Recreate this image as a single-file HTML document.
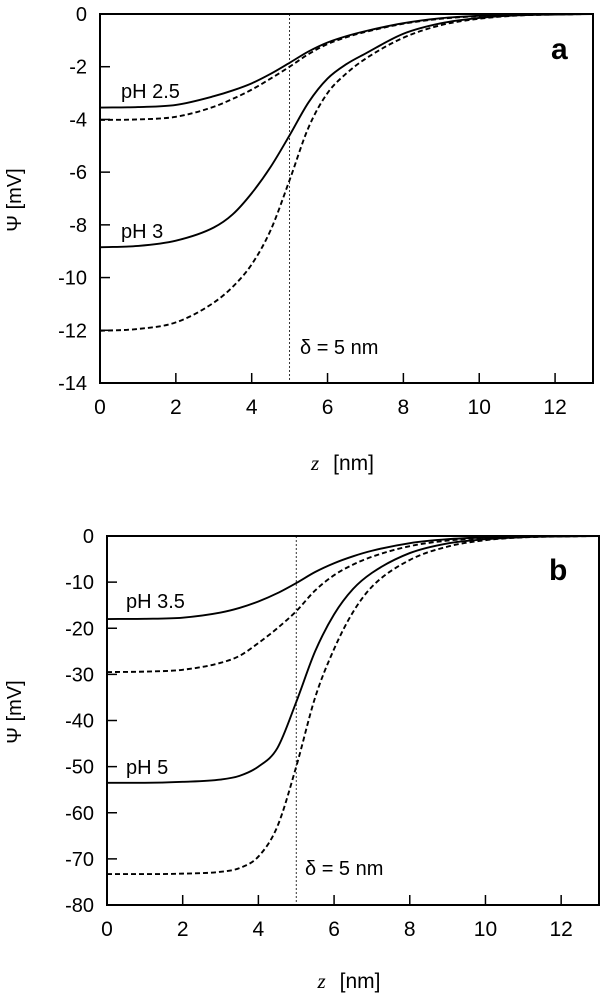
<!DOCTYPE html>
<html><head><meta charset="utf-8"><style>
html,body{margin:0;padding:0;background:#fff;}
svg{display:block;font-family:"Liberation Sans",sans-serif;}
</style></head><body>
<svg id="chart" width="600" height="999" viewBox="0 0 600 999"></svg>
<script>
const zPts = [0,1,2,3,3.5,4,4.5,5,5.5,6,6.5,7,8,9,10,11,12,13];
const aXTicks = [0,2,4,6,8,10,12];
const aYTicks = [0,-2,-4,-6,-8,-10,-12,-14];
const bXTicks = [0,2,4,6,8,10,12];
const bYTicks = [0,-10,-20,-30,-40,-50,-60,-70,-80];
const aPh25Solid = [-3.55,-3.53,-3.45,-3.12,-2.9,-2.63,-2.27,-1.85,-1.42,-1.08,-0.84,-0.65,-0.35,-0.16,-0.07,-0.03,-0.01,0];
const aPh25Dashed = [-4.02,-4.0,-3.9,-3.52,-3.22,-2.87,-2.45,-2.0,-1.52,-1.14,-0.88,-0.68,-0.37,-0.18,-0.08,-0.03,-0.01,0];
const aPh3Solid = [-8.85,-8.8,-8.6,-8.1,-7.6,-6.8,-5.8,-4.6,-3.35,-2.45,-1.9,-1.5,-0.75,-0.35,-0.15,-0.05,-0.02,0];
const aPh3Dashed = [-12.02,-11.95,-11.7,-10.95,-10.35,-9.5,-8.2,-6.3,-4.3,-3.0,-2.25,-1.7,-0.9,-0.42,-0.18,-0.06,-0.02,0];
const bPh35Solid = [-18,-17.95,-17.7,-16.6,-15.6,-14.2,-12.4,-10.2,-7.8,-5.9,-4.4,-3.2,-1.55,-0.7,-0.3,-0.1,-0.03,0];
const bPh35Dashed = [-29.5,-29.4,-29,-27.5,-26,-23.2,-20,-16.3,-11.8,-8.5,-6.2,-4.5,-2.2,-1.0,-0.4,-0.15,-0.05,0];
const bPh5Solid = [-53.5,-53.5,-53.3,-52.8,-52,-50,-46,-36,-25,-17,-11.5,-8,-3.7,-1.6,-0.7,-0.25,-0.08,0];
const bPh5Dashed = [-73.3,-73.3,-73.2,-72.8,-72,-69.5,-63,-50,-35,-24.5,-16.5,-11,-5.2,-2.3,-0.9,-0.3,-0.1,0];

const NS="http://www.w3.org/2000/svg";
const svg=document.getElementById('chart');
function mk(tag,attrs,parent){const e=document.createElementNS(NS,tag);for(const k in attrs)e.setAttribute(k,attrs[k]);(parent||svg).appendChild(e);return e;}

function monotonePath(xs,ys){
  const n=xs.length,d=[],m=[];
  for(let i=0;i<n-1;i++)d.push((ys[i+1]-ys[i])/(xs[i+1]-xs[i]));
  m[0]=d[0];m[n-1]=d[n-2];
  for(let i=1;i<n-1;i++){m[i]=(d[i-1]*d[i]<=0)?0:(d[i-1]+d[i])/2;}
  for(let i=0;i<n-1;i++){if(d[i]===0){m[i]=0;m[i+1]=0;continue;}const a=m[i]/d[i],b=m[i+1]/d[i],s=a*a+b*b;if(s>9){const t=3/Math.sqrt(s);m[i]=t*a*d[i];m[i+1]=t*b*d[i];}}
  let p='M'+xs[0].toFixed(2)+','+ys[0].toFixed(2);
  for(let i=0;i<n-1;i++){const h=(xs[i+1]-xs[i])/3;
    p+=' C'+(xs[i]+h).toFixed(2)+','+(ys[i]+m[i]*h).toFixed(2)+' '+(xs[i+1]-h).toFixed(2)+','+(ys[i+1]-m[i+1]*h).toFixed(2)+' '+xs[i+1].toFixed(2)+','+ys[i+1].toFixed(2);}
  return p;
}

function panel(cfg){
  const g=mk('g',{});
  
  
  const X=v=>cfg.x0+(v-cfg.xmin)/(cfg.xmax-cfg.xmin)*(cfg.x1-cfg.x0);
  const Y=v=>cfg.y0+(cfg.ymax-v)/(cfg.ymax-cfg.ymin)*(cfg.y1-cfg.y0);
  const dl=mk('line',{x1:X(5),x2:X(5),y1:cfg.y0,y2:cfg.y1,stroke:'#000','stroke-width':0.8,'stroke-dasharray':'2,2'},g);
  
  
  cfg.xticks.forEach(t=>{
    const l=mk('line',{x1:X(t),x2:X(t),y1:cfg.y1,y2:cfg.y1-10,stroke:'#000','stroke-width':1.5},g);
    
    
    const tx=mk('text',{x:X(t),y:cfg.y1+31,'font-size':21,'text-anchor':'middle'},g);tx.textContent=t;
    
    
  });
  cfg.yticks.forEach(t=>{
    const l=mk('line',{x1:cfg.x0,x2:cfg.x0+10,y1:Y(t),y2:Y(t),stroke:'#000','stroke-width':1.5},g);
    
    
    const tx=mk('text',{x:cfg.x0-13,y:Y(t)+7,'font-size':20,'text-anchor':'end'},g);tx.textContent=t;
    
    
  });
  cfg.series.forEach(s=>{
    const p=mk('path',{d:monotonePath(zPts.map(X),s.vals.map(Y)),fill:'none',stroke:'#000','stroke-width':1.9,'stroke-dasharray':s.dash?'5,3':'none'},g);
    
    
  });
  const box=mk('rect',{x:cfg.x0,y:cfg.y0,width:cfg.x1-cfg.x0,height:cfg.y1-cfg.y0,fill:'none',stroke:'#000','stroke-width':2},g);
  
  
  cfg.labels.forEach(L=>{
    const t=mk('text',{x:L.x,y:L.y,'font-size':L.size||20,'font-weight':L.bold?'bold':'normal'},g);t.textContent=L.text;
    
    
  });
  const yl=mk('text',{x:0,y:0,'font-size':20,'text-anchor':'middle',transform:'translate(21,'+cfg.ylabY+') rotate(-90)'},g);
  yl.textContent='Ψ [mV]';
  
  
  const xl=mk('text',{x:(cfg.x0+cfg.x1)/2-4,y:cfg.xlabY,'font-size':21,'text-anchor':'middle'},g);
  xl.innerHTML='<tspan font-family="Liberation Serif" font-style="italic">z</tspan><tspan dx="14">[nm]</tspan>';
  
  
}

panel({name:'panel-a',x0:100,x1:593,y0:14,y1:383,xmin:0,xmax:13,ymin:-14,ymax:0,xticks:aXTicks,yticks:aYTicks,ylabY:200,xlabY:470,
  series:[{name:'ph25-solid',vals:aPh25Solid},{name:'ph25-dashed',vals:aPh25Dashed,dash:1},{name:'ph3-solid',vals:aPh3Solid},{name:'ph3-dashed',vals:aPh3Dashed,dash:1}],
  labels:[{name:'label-ph25',text:'pH 2.5',x:121,y:98},{name:'label-ph3',text:'pH 3',x:121,y:238},{name:'label-delta',text:'δ = 5 nm',x:300,y:354},{name:'panel-label-a',text:'a',x:551,y:59,size:30,bold:1}]});
panel({name:'panel-b',x0:107,x1:599,y0:536,y1:905,xmin:0,xmax:13,ymin:-80,ymax:0,xticks:bXTicks,yticks:bYTicks,ylabY:712,xlabY:988,
  series:[{name:'ph35-solid',vals:bPh35Solid},{name:'ph35-dashed',vals:bPh35Dashed,dash:1},{name:'ph5-solid',vals:bPh5Solid},{name:'ph5-dashed',vals:bPh5Dashed,dash:1}],
  labels:[{name:'label-ph35',text:'pH 3.5',x:126,y:608},{name:'label-ph5',text:'pH 5',x:126,y:774},{name:'label-delta',text:'δ = 5 nm',x:305,y:875},{name:'panel-label-b',text:'b',x:549,y:580,size:30,bold:1}]});
</script>
</body></html>
